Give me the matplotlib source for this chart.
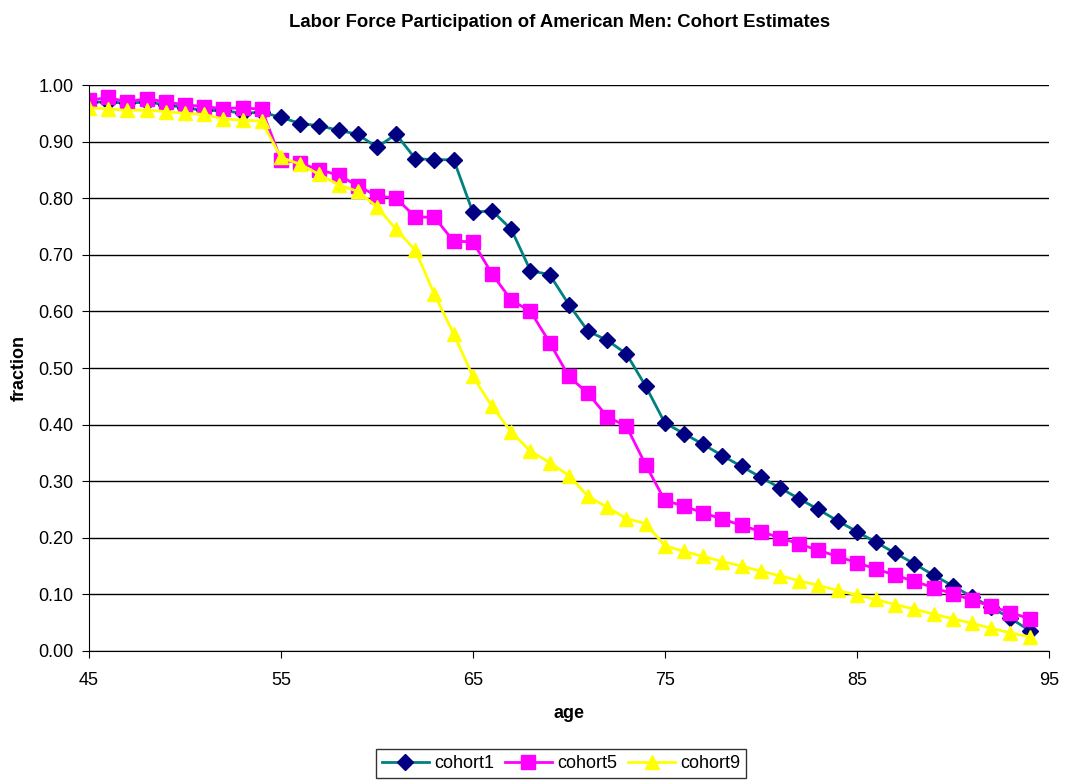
import matplotlib.pyplot as plt
import numpy as np

plt.rcParams['font.family'] = ['Liberation Sans', 'DejaVu Sans']

ages = list(range(45, 95))

cohort1 = [0.970, 0.970, 0.968, 0.970, 0.965, 0.960, 0.955, 0.955, 0.950, 0.952,
           0.943, 0.932, 0.928, 0.920, 0.913, 0.890, 0.913, 0.870, 0.868, 0.868,
           0.775, 0.778, 0.745, 0.672, 0.665, 0.612, 0.565, 0.549, 0.525, 0.468,
           0.403, 0.384, 0.365, 0.345, 0.326, 0.307, 0.288, 0.269, 0.250, 0.230,
           0.211, 0.192, 0.173, 0.154, 0.134, 0.115, 0.096, 0.077, 0.058, 0.036]

cohort5 = [0.973, 0.978, 0.970, 0.976, 0.970, 0.965, 0.962, 0.958, 0.960, 0.957,
           0.868, 0.862, 0.850, 0.841, 0.822, 0.804, 0.800, 0.767, 0.766, 0.724,
           0.723, 0.666, 0.620, 0.600, 0.545, 0.485, 0.455, 0.414, 0.397, 0.329,
           0.266, 0.256, 0.244, 0.233, 0.222, 0.211, 0.200, 0.189, 0.178, 0.167,
           0.156, 0.145, 0.134, 0.123, 0.112, 0.101, 0.090, 0.079, 0.068, 0.057]

cohort9 = [0.960, 0.958, 0.955, 0.956, 0.953, 0.950, 0.948, 0.940, 0.938, 0.936,
           0.872, 0.860, 0.842, 0.824, 0.812, 0.785, 0.745, 0.708, 0.630, 0.560,
           0.485, 0.432, 0.387, 0.353, 0.333, 0.310, 0.273, 0.254, 0.234, 0.225,
           0.186, 0.176, 0.167, 0.158, 0.150, 0.141, 0.133, 0.124, 0.116, 0.107,
           0.099, 0.091, 0.082, 0.074, 0.065, 0.057, 0.049, 0.040, 0.032, 0.025]

fig = plt.figure(figsize=(10.68, 7.8), dpi=100)
ax = fig.add_axes([0.0833, 0.1654, 0.8987, 0.7256])

ax.plot(ages, cohort1, color='#008080', lw=2, marker='D', ms=8,
        mfc='#000080', mec='#000080', label='cohort1')
ax.plot(ages, cohort5, color='#FF00FF', lw=2, marker='s', ms=9.5,
        mfc='#FF00FF', mec='#FF00FF', label='cohort5')
ax.plot(ages, cohort9, color='#FFFF00', lw=2, marker='^', ms=9.5,
        mfc='#FFFF00', mec='#FFFF00', label='cohort9')

ax.set_xlim(45, 95)
ax.set_ylim(0, 1.0)
ax.set_xticks(np.arange(45, 96, 10))
ax.set_yticks(np.arange(0, 1.01, 0.1))
ax.set_yticklabels(['%.2f' % v for v in np.arange(0, 1.01, 0.1)])
ax.tick_params(labelsize=13, length=5, color='black')
ax.tick_params(axis='x', pad=10)
ax.tick_params(axis='y', pad=6)
ax.yaxis.grid(True, color='black', lw=1)
ax.set_axisbelow(True)
for s in ['top', 'right']:
    ax.spines[s].set_visible(False)

ax.set_title('Labor Force Participation of American Men: Cohort Estimates',
             fontsize=13.3, fontweight='bold', pad=42, x=0.49)
ax.set_xlabel('age', fontsize=13, fontweight='bold', labelpad=12)
ax.set_ylabel('fraction', fontsize=13, fontweight='bold', labelpad=8)

leg = ax.legend(loc='upper center', bbox_to_anchor=(0.492, -0.164), ncol=3,
                fontsize=13, frameon=True, fancybox=False, edgecolor='black',
                handlelength=2.6, columnspacing=0.6, handletextpad=0.3,
                borderpad=0.32, borderaxespad=0.3)
leg.get_frame().set_linewidth(1)

fig.savefig('out.png', dpi=100)
